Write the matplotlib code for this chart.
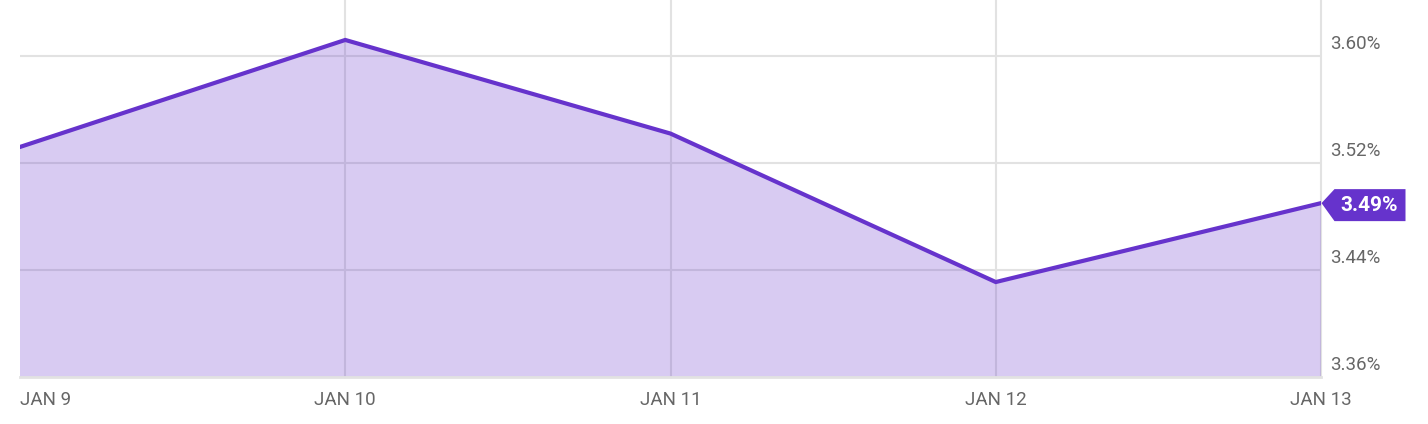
import numpy as np
import matplotlib.pyplot as plt
from matplotlib.patches import Polygon

days = ['JAN 9', 'JAN 10', 'JAN 11', 'JAN 12', 'JAN 13']
rate = [3.532, 3.612, 3.542, 3.431, 3.49]
yticks = [3.36, 3.44, 3.52, 3.60]
last_label = '3.49%'

line_col = '#6633cc'
grid_col = '#e2e2e2'
text_col = '#666666'

plt.rcParams['font.family'] = ['Roboto', 'DejaVu Sans']

W, H = 1428, 424
fig = plt.figure(figsize=(W/100, H/100), dpi=100)
ax = fig.add_axes([20/W, (H-377)/H, (1321-20)/W, 377/H])

x = np.arange(len(days))
ax.set_xlim(0, len(days)-1)
ax.set_ylim(3.36, 3.36 + 377/107*0.08)

# grid behind the translucent fill
for yt in yticks[1:]:
    ax.axhline(yt, color=grid_col, lw=1.5, zorder=0)
for xi in x[1:]:
    ax.axvline(xi, color=grid_col, lw=1.5, zorder=0, clip_on=False)

ax.fill_between(x, 3.0, rate, color=line_col, alpha=0.25, zorder=1, lw=0)
ax.plot(x, rate, color=line_col, lw=3, zorder=3, solid_joinstyle='miter')

for s in ['top', 'left', 'right']:
    ax.spines[s].set_visible(False)
ax.spines['bottom'].set_color(grid_col)
ax.spines['bottom'].set_linewidth(2)

ax.set_xticks([])
ax.set_yticks([])

trans_y = ax.get_yaxis_transform()
for yt in yticks:
    ax.text(1.007, yt + 0.009, '%.2f%%' % yt, transform=trans_y, ha='left', va='center',
            fontsize=13.5, color=text_col)

trans_x = ax.get_xaxis_transform()
for i, d in enumerate(days):
    ha = 'left' if i == 0 else 'center'
    ax.text(i, -23/377, d, transform=trans_x, ha=ha, va='center', fontsize=13.5, color=text_col)

# last value tag, pointing at the last point
tip = ax.transData.transform((x[-1], rate[-1]))
tx, ty = tip[0] + 0.5, tip[1]
pts = [(tx, ty), (tx + 13, ty + 14), (tx + 84, ty + 14), (tx + 84, ty - 18), (tx + 13, ty - 18)]
pts = [(px / W, py / H) for px, py in pts]
fig.patches.append(Polygon(pts, closed=True, fc=line_col, ec='none', transform=fig.transFigure))
fig.text((tx + 48) / W, (ty - 2) / H, last_label, ha='center', va='center',
         fontsize=15, fontweight='bold', color='white')

fig.savefig('out.png', dpi=100)
